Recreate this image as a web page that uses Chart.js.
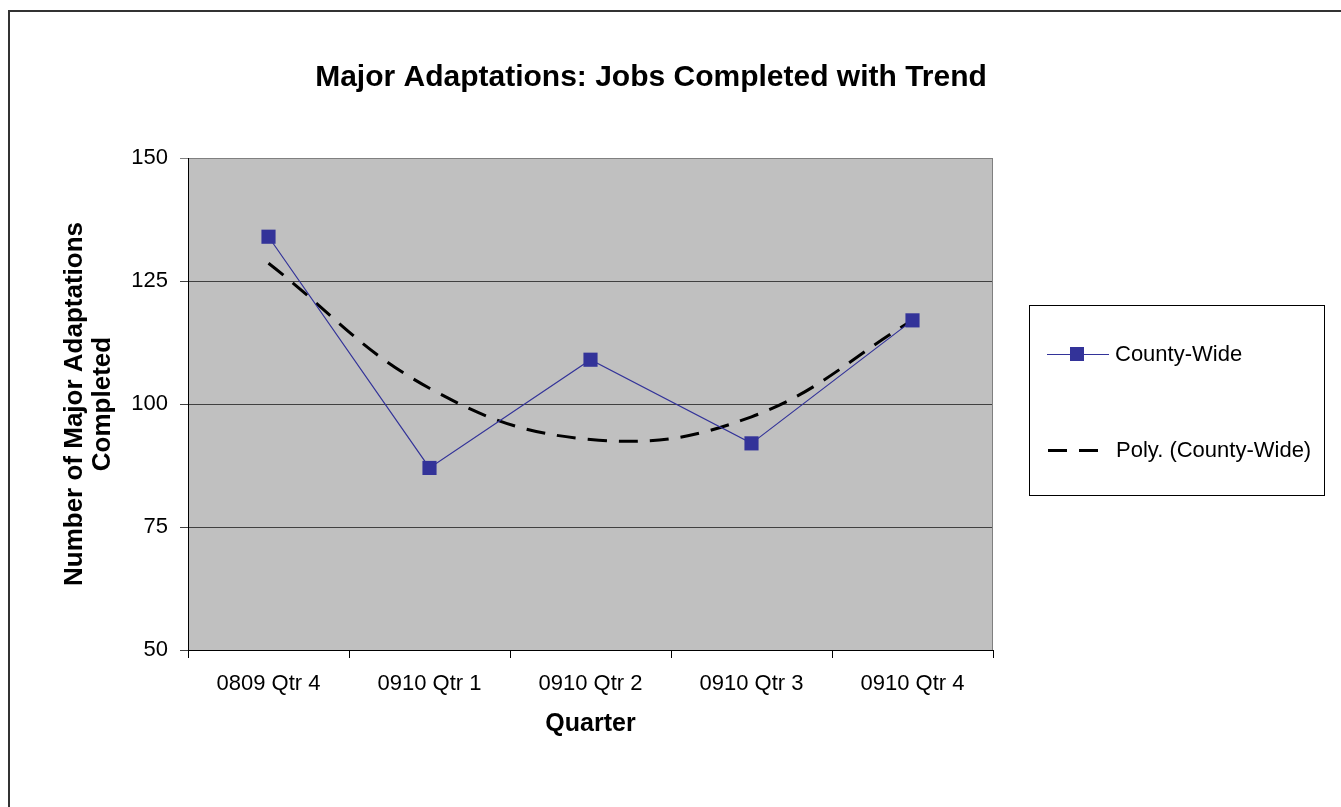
<!DOCTYPE html>
<html>
<head>
<meta charset="utf-8">
<script src="https://cdn.jsdelivr.net/npm/chart.js@4.4.1/dist/chart.umd.min.js"></script>
<style>
  html, body { margin: 0; padding: 0; background: #ffffff; }
  canvas { display: block; }
</style>
</head>
<body>
<canvas id="c" width="1341" height="807"></canvas>
<script>
const categories = ["0809 Qtr 4", "0910 Qtr 1", "0910 Qtr 2", "0910 Qtr 3", "0910 Qtr 4"];
const countyWide = [134, 87, 109, 92, 117];
const polyTrend = [128.6, 103.2, 92.8, 97.4, 117];
const yTicks = [50, 75, 100, 125, 150];
const chartTitle = "Major Adaptations: Jobs Completed with Trend";
const xTitle = "Quarter";
const yTitle = ["Number of Major Adaptations", "Completed"];
const seriesNames = ["County-Wide", "Poly. (County-Wide)"];

const FONT = "'Liberation Sans', Arial, sans-serif";

const decor = {
  id: 'decor',
  beforeDraw(chart) {
    const {ctx, chartArea: a} = chart;
    ctx.save();
    ctx.fillStyle = '#ffffff';
    ctx.fillRect(0, 0, chart.width, chart.height);
    // outer frame
    ctx.strokeStyle = '#333333';
    ctx.lineWidth = 2;
    ctx.beginPath();
    ctx.moveTo(9, 830);
    ctx.lineTo(9, 11);
    ctx.lineTo(1360, 11);
    ctx.stroke();
    // plot background
    ctx.fillStyle = '#c0c0c0';
    ctx.fillRect(a.left, a.top, a.right - a.left, a.bottom - a.top);
    ctx.restore();
  },
  beforeDatasetsDraw(chart) {
    const {ctx, chartArea: a} = chart;
    ctx.save();
    ctx.strokeStyle = '#808080';
    ctx.lineWidth = 1;
    ctx.beginPath();
    ctx.moveTo(a.right - 0.5, a.top);
    ctx.lineTo(a.right - 0.5, a.bottom);
    ctx.stroke();
    ctx.restore();
  },
  afterDraw(chart) {
    const {ctx} = chart;
    ctx.save();
    // title
    ctx.fillStyle = '#000000';
    ctx.font = "bold 30px " + FONT;
    ctx.textAlign = 'center';
    ctx.textBaseline = 'middle';
    ctx.fillText(chartTitle, 651, 78);
    // legend box
    ctx.strokeStyle = '#000000';
    ctx.lineWidth = 1;
    ctx.strokeRect(1029.5, 305.5, 295, 190);
    const ds0 = chart.data.datasets[0];
    const ds1 = chart.data.datasets[1];
    // item 1
    ctx.strokeStyle = ds0.borderColor;
    ctx.lineWidth = ds0.borderWidth;
    ctx.beginPath();
    ctx.moveTo(1047, 354.5);
    ctx.lineTo(1109, 354.5);
    ctx.stroke();
    ctx.fillStyle = ds0.pointBackgroundColor;
    ctx.fillRect(1070, 347, 14, 14);
    // item 2
    ctx.strokeStyle = ds1.borderColor;
    ctx.lineWidth = ds1.borderWidth;
    ctx.setLineDash(ds1.borderDash);
    ctx.beginPath();
    ctx.moveTo(1048, 450.5);
    ctx.lineTo(1099, 450.5);
    ctx.stroke();
    ctx.setLineDash([]);
    ctx.fillStyle = '#000000';
    ctx.font = "22px " + FONT;
    ctx.textAlign = 'left';
    ctx.textBaseline = 'middle';
    ctx.fillText(seriesNames[0], 1115, 355);
    ctx.fillText(seriesNames[1], 1116, 451);
    ctx.restore();
  }
};

new Chart(document.getElementById('c'), {
  type: 'line',
  data: {
    labels: categories,
    datasets: [
      {
        label: seriesNames[0],
        data: countyWide,
        borderColor: '#333399',
        borderWidth: 1.2,
        pointStyle: 'rect',
        pointRadius: 10,
        pointBackgroundColor: '#333399',
        pointBorderColor: '#333399',
        pointBorderWidth: 0,
        tension: 0,
        order: 0
      },
      {
        label: seriesNames[1],
        data: polyTrend,
        borderColor: '#000000',
        borderWidth: 3,
        borderDash: [19, 12],
        pointRadius: 0,
        tension: 0.4,
        order: 1
      }
    ]
  },
  options: {
    responsive: false,
    devicePixelRatio: 1,
    animation: false,
    layout: { padding: { left: 0, top: 158, right: 348, bottom: 0 } },
    plugins: {
      legend: { display: false },
      title: { display: false },
      tooltip: { enabled: false }
    },
    scales: {
      x: {
        type: 'category',
        offset: true,
        grid: {
          offset: true,
          drawOnChartArea: false,
          drawTicks: true,
          tickLength: 8,
          color: '#000000'
        },
        border: { display: true, color: '#000000', width: 1 },
        ticks: {
          color: '#000000',
          font: { family: FONT, size: 22 },
          padding: 13,
          maxRotation: 0
        },
        title: {
          display: true,
          text: xTitle,
          color: '#000000',
          font: { family: FONT, size: 25, weight: 'bold', lineHeight: 1.2 },
          padding: { top: 0, bottom: 68 }
        },
        afterFit(scale) { scale.height = 157; }
      },
      y: {
        min: 50,
        max: 150,
        afterBuildTicks(scale) { scale.ticks = yTicks.map(v => ({ value: v })); },
        grid: {
          drawOnChartArea: true,
          drawTicks: true,
          tickLength: 8,
          color: (c) => (c.tick && c.tick.value === 150) ? '#808080' : '#404040',
          lineWidth: 1
        },
        border: { display: true, color: '#000000', width: 1 },
        ticks: {
          color: '#000000',
          font: { family: FONT, size: 22 },
          padding: 12
        },
        title: {
          display: true,
          text: yTitle,
          color: '#000000',
          font: { family: FONT, size: 26, weight: 'bold', lineHeight: 1.08 },
          padding: { top: 61, bottom: 0 }
        },
        afterFit(scale) { scale.width = 188; }
      }
    }
  },
  plugins: [decor]
});
</script>
</body>
</html>
